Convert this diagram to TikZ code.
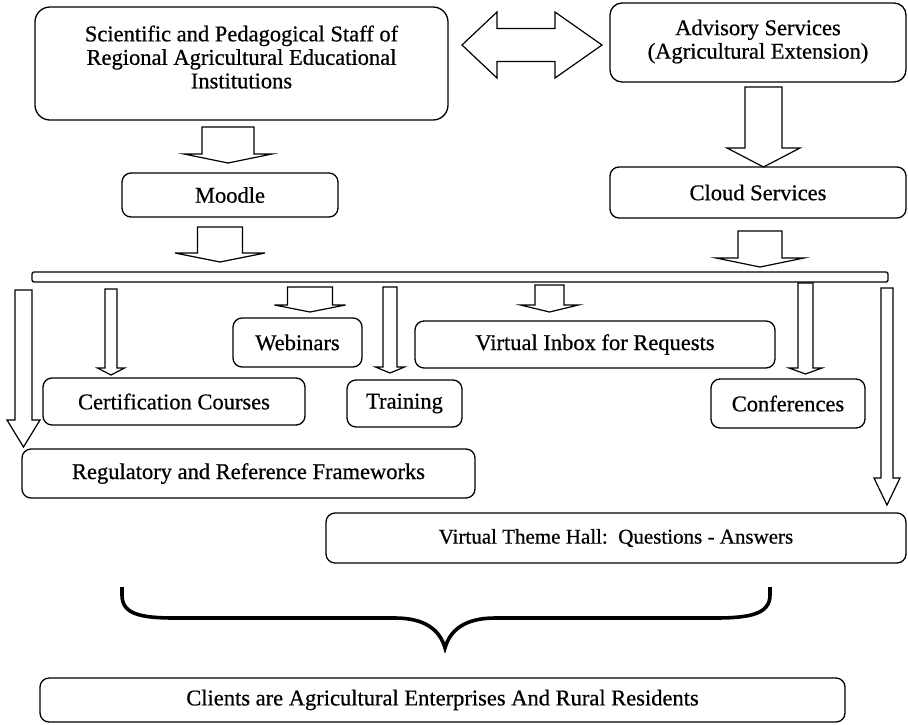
\documentclass[tikz,border=0pt]{standalone}
\usepackage{fontspec}
\setmainfont{Liberation Serif}[FakeBold=0.6]
\usetikzlibrary{calc}

% downward block arrow: centre x, top y, head-base y, tip y, shaft half-width, head half-width
\newcommand\dnarrow[6]{%
  \draw[blk] ({#1-#5},#2) -- ({#1+#5},#2) -- ({#1+#5},#3) -- ({#1+#6},#3)
    -- (#1,#4) -- ({#1-#6},#3) -- ({#1-#5},#3) -- cycle;}

\tikzset{
  box/.style={draw, line width=1.3pt, rounded corners=9pt, inner sep=0pt,
              font=\fontsize{22.5}{23.5}\selectfont},
  bigbox/.style={box, rounded corners=15pt},
  txt/.style={align=center, inner sep=0pt, font=\fontsize{22.5}{23.5}\selectfont},
  blk/.style={draw, line width=1.2pt, fill=white, line join=miter},
  brace/.style={draw, line width=3.6pt},
}

\begin{document}
\begin{tikzpicture}[x=1pt, y=-1pt]
\useasboundingbox[fill=white] (0,0) rectangle (908,724);

% top row
\node[bigbox, minimum width=413pt, minimum height=113pt] (sci) at (241.5,63.5) {};
\node[txt] (scitext) at (241.5,57) {Scientific and Pedagogical Staff of\\Regional Agricultural Educational\\Institutions};
\node[bigbox, rounded corners=12pt, minimum width=296pt, minimum height=79pt] (adv) at (758,42.5) {};
\node[txt] (advtext) at (758,41.5) {Advisory Services\\(Agricultural Extension)};

% two-headed arrow between the top boxes
\draw[blk] (462,45) -- (497,12) -- (497,28.5) -- (555,28.5) -- (555,12) -- (602,45)
  -- (555,78) -- (555,61.5) -- (497,61.5) -- (497,78) -- cycle;

% second row
\node[box, minimum width=216pt, minimum height=44pt] (moodle) at (230,195) {Moodle};
\node[box, minimum width=296pt, minimum height=51pt] (cloud) at (758,192.5) {Cloud Services};
\dnarrow{228}{127}{154}{163}{26}{44}
\dnarrow{763.5}{87}{148}{167}{18.5}{36.5}

% distribution bar
\node[draw, line width=1.3pt, rounded corners=2pt, minimum width=856pt, minimum height=10pt, inner sep=0pt] (bar) at (460,277) {};
\dnarrow{220}{227}{253}{262}{22.5}{45}
\dnarrow{760}{231}{258}{267}{22}{44}

% services
\node[box, minimum width=129pt, minimum height=49pt] (web) at (297.5,342.5) {Webinars};
\node[box, minimum width=360pt, minimum height=47pt] (inbox) at (595,344.5) {Virtual Inbox for Requests};
\node[box, minimum width=262pt, minimum height=47pt] (cert) at (174,401.5) {Certification Courses};
\node[box, minimum width=115pt, minimum height=47pt] (train) at (404.5,403.5) {Training};
\node[box, minimum width=154pt, minimum height=49pt] (conf) at (788,403.5) {Conferences};
\node[box, minimum width=453pt, minimum height=49pt] (reg) at (248.5,473.5) {Regulatory and Reference Frameworks};
\node[box, minimum width=580pt, minimum height=50pt, font=\fontsize{21}{23}\selectfont] (vth) at (616,538) {Virtual Theme Hall:\ \ Questions - Answers};

\dnarrow{23.5}{290}{420}{447}{8.5}{16.5}
\dnarrow{111}{289}{368}{375}{6}{13.5}
\dnarrow{310}{287}{305}{312}{22.5}{35.5}
\dnarrow{390}{287}{367}{373}{7}{14.5}
\dnarrow{549.5}{285}{305}{312}{14.5}{29}
\dnarrow{805.5}{283}{368}{374}{7.5}{16.5}
\dnarrow{887}{288}{478}{505}{6}{13}

% brace gathering everything towards the clients
\coordinate (bl) at (122,587);
\coordinate (br) at (770,587);
\coordinate (btip) at (445,648);
\draw[brace] (bl) -- (122,595) .. controls (122,614) and (140,618) .. (175,618)
  -- (395,618) .. controls (425,618) and (440,630) .. (btip)
  .. controls (450,630) and (465,618) .. (495,618)
  -- (715,618) .. controls (750,618) and (770,614) .. (770,595) -- (br);

\node[box, minimum width=805pt, minimum height=44pt] (clients) at (442.5,700) {Clients are Agricultural Enterprises And Rural Residents};
\end{tikzpicture}
\end{document}
